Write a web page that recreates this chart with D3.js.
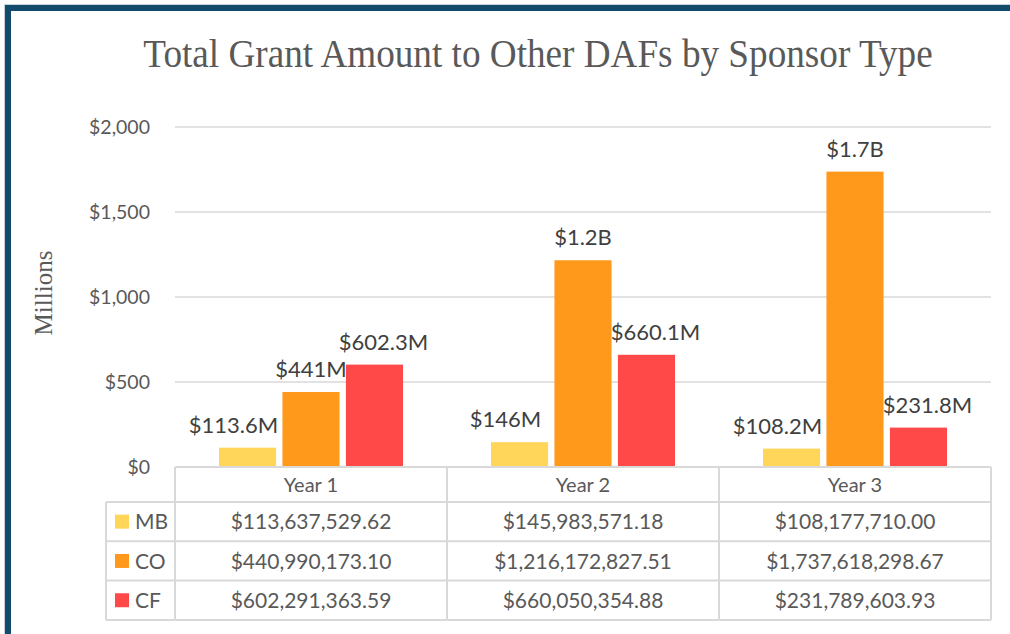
<!DOCTYPE html>
<html>
<head>
<meta charset="utf-8">
<script src="https://cdn.jsdelivr.net/npm/d3@7"></script>
<style>
  html, body { margin: 0; padding: 0; background: #fff; }
  svg { display: block; }
</style>
</head>
<body>
<svg id="chart" width="1010" height="634"></svg>
<script>
// ---- data ----
const years = ["Year 1", "Year 2", "Year 3"];
const seriesNames = ["MB", "CO", "CF"];
const mbValues = [113637529.62, 145983571.18, 108177710.00];
const coValues = [440990173.10, 1216172827.51, 1737618298.67];
const cfValues = [602291363.59, 660050354.88, 231789603.93];
const mbLabels = ["$113.6M", "$146M", "$108.2M"];
const coLabels = ["$441M", "$1.2B", "$1.7B"];
const cfLabels = ["$602.3M", "$660.1M", "$231.8M"];
const yTicks = [0, 500, 1000, 1500, 2000];
const titleText = "Total Grant Amount to Other DAFs by Sponsor Type";
const yAxisTitle = "Millions";

// ---- styles ----
const colors = { MB: "#FFD55A", CO: "#FF991C", CF: "#FF4848" };
const labelDx = { MB: -14, CO: 0, CF: 9 };
const sans = "Lato, 'Open Sans', sans-serif";
const serif = "'Liberation Serif', 'Times New Roman', serif";
const gridColor = "#d9d9d9";
const textColor = "#595959";
const labelColor = "#404040";

const series = [
  { name: "MB", values: mbValues, labels: mbLabels },
  { name: "CO", values: coValues, labels: coLabels },
  { name: "CF", values: cfValues, labels: cfLabels }
];

const svg = d3.select("#chart");

// frame
svg.append("rect").attr("x", 8).attr("y", 8).attr("width", 1030).attr("height", 660)
  .attr("fill", "#fff").attr("stroke", "#124b6b").attr("stroke-width", 6);
svg.append("rect").attr("x", 4.5).attr("y", 4.5).attr("width", 1030).attr("height", 660)
  .attr("fill", "none").attr("stroke", "#c8d2d8").attr("stroke-width", 1);

// title
svg.append("text").attr("transform", "translate(538,67) scale(0.93,1)").attr("text-anchor", "middle")
  .attr("font-family", serif).attr("font-size", 40).attr("fill", textColor)
  .text(titleText);

// scales
const plotLeft = 175, plotRight = 991, plotTop = 127, plotBottom = 467;
const x = d3.scaleBand().domain(years).range([plotLeft, plotRight]).padding(0);
const groupHalf = 92;
const xs = d3.scaleBand().domain(seriesNames).range([-groupHalf, groupHalf]).paddingInner(0.1);
const y = d3.scaleLinear().domain([0, 2000]).range([plotBottom, plotTop]);

// gridlines
svg.append("g").selectAll("line").data(yTicks.filter(d => d > 0)).join("line")
  .attr("x1", plotLeft).attr("x2", plotRight)
  .attr("y1", d => y(d)).attr("y2", d => y(d))
  .attr("stroke", gridColor).attr("stroke-width", 1.5);

// y axis tick labels
const yAxis = d3.axisLeft(y).tickValues(yTicks).tickSize(0).tickPadding(0)
  .tickFormat(d => "$" + d3.format(",")(d));
const yg = svg.append("g").attr("transform", `translate(150,0)`).call(yAxis);
yg.select(".domain").remove();
yg.selectAll("text").attr("font-family", sans).attr("font-size", 19.5)
  .attr("fill", textColor).attr("dy", "0.35em");

// y axis title
svg.append("text").attr("transform", `translate(52,293) rotate(-90)`)
  .attr("text-anchor", "middle").attr("font-family", serif).attr("font-size", 25)
  .attr("fill", textColor).text(yAxisTitle);

// bars
const barData = [];
series.forEach(s => years.forEach((yr, i) => {
  barData.push({ series: s.name, year: yr, value: s.values[i] / 1e6, label: s.labels[i] });
}));

const bars = svg.append("g");
bars.selectAll("rect").data(barData).join("rect")
  .attr("x", d => x(d.year) + x.bandwidth() / 2 + xs(d.series))
  .attr("width", xs.bandwidth())
  .attr("y", d => y(d.value))
  .attr("height", d => y(0) - y(d.value))
  .attr("fill", d => colors[d.series]);

// data labels
svg.append("g").selectAll("text").data(barData).join("text")
  .attr("x", d => x(d.year) + x.bandwidth() / 2 + xs(d.series) + xs.bandwidth() / 2 + labelDx[d.series])
  .attr("y", d => y(d.value) - 15)
  .attr("text-anchor", "middle").attr("font-family", sans).attr("font-size", 22)
  .attr("fill", labelColor).text(d => d.label);

// data table
const tableLeft = 106;
const headerBottom = 502;
const rowH = 39.3;
const rowsY = seriesNames.map((n, i) => headerBottom + i * rowH);
const tableBottom = headerBottom + seriesNames.length * rowH;
const tg = svg.append("g");
const lineStyle = sel => sel.attr("stroke", gridColor).attr("stroke-width", 2).attr("fill", "none");

// horizontal lines
tg.append("line").attr("x1", plotLeft).attr("x2", plotRight).attr("y1", plotBottom).attr("y2", plotBottom).call(lineStyle);
[...rowsY, tableBottom].forEach(yy => {
  tg.append("line").attr("x1", tableLeft).attr("x2", plotRight).attr("y1", yy).attr("y2", yy).call(lineStyle);
});
// vertical lines
tg.append("line").attr("x1", tableLeft).attr("x2", tableLeft).attr("y1", headerBottom).attr("y2", tableBottom).call(lineStyle);
[...years.map(yr => x(yr)), plotRight].forEach(xx => {
  tg.append("line").attr("x1", xx).attr("x2", xx).attr("y1", plotBottom).attr("y2", tableBottom).call(lineStyle);
});

// header
tg.selectAll("text.hdr").data(years).join("text").attr("class", "hdr")
  .attr("x", d => x(d) + x.bandwidth() / 2).attr("y", (plotBottom + headerBottom) / 2)
  .attr("dy", "0.36em").attr("text-anchor", "middle")
  .attr("font-family", sans).attr("font-size", 20).attr("fill", textColor).text(d => d);

// rows
const fmt = d3.format("$,.2f");
series.forEach((s, si) => {
  const cy = rowsY[si] + rowH / 2;
  tg.append("rect").attr("x", 115).attr("y", cy - 7).attr("width", 14).attr("height", 14)
    .attr("fill", colors[s.name]);
  tg.append("text").attr("x", 135).attr("y", cy).attr("dy", "0.36em")
    .attr("font-family", sans).attr("font-size", 21).attr("fill", textColor).text(s.name);
  tg.selectAll(null).data(s.values).join("text")
    .attr("x", (d, i) => x(years[i]) + x.bandwidth() / 2).attr("y", cy).attr("dy", "0.36em")
    .attr("text-anchor", "middle").attr("font-family", sans).attr("font-size", 21)
    .attr("fill", textColor).text(d => fmt(d));
});
</script>
</body>
</html>
